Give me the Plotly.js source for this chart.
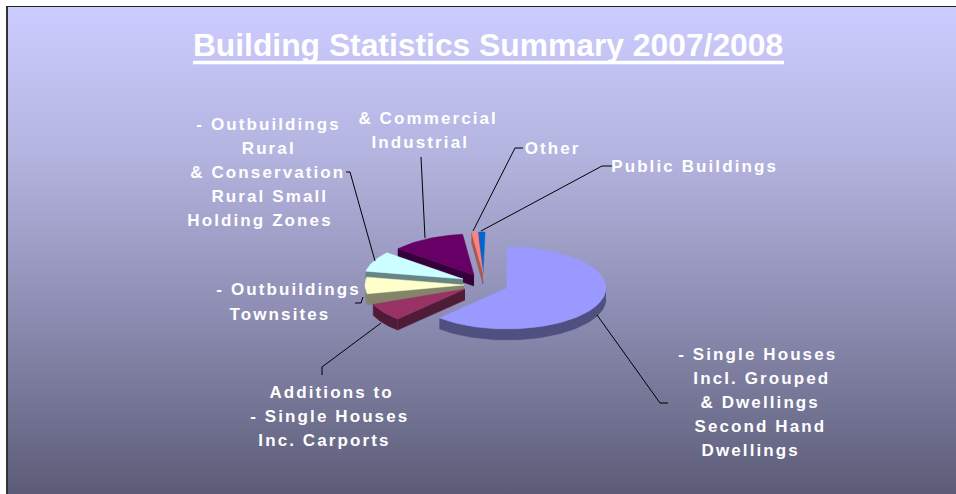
<!DOCTYPE html>
<html>
<head>
<meta charset="utf-8">
<script src="https://cdn.plot.ly/plotly-3.0.1.min.js"></script>
<style>
html,body{margin:0;padding:0;background:#fff;width:956px;height:494px;overflow:hidden}
#bg{position:absolute;left:6px;top:6px;width:950px;height:488px;box-sizing:border-box;border-left:2px solid #333;border-top:1.5px solid #222;
background:linear-gradient(to bottom,#ccccff 0%,#b4b4e0 30%,#8e8eb4 62%,#5c5c78 100%)}
#chart{position:absolute;left:0;top:0;width:956px;height:494px}
#chart .annotation-text{letter-spacing:2.1px}
</style>
</head>
<body>
<div id="bg"></div>
<div id="chart"></div>
<script>
// Data: categories and their share of the pie (percent)
const categories = ["Single Houses","Additions","Outbuildings Townsites","Outbuildings Rural","Commercial Industrial","Other","Public Buildings"];
const shares = [61.9, 7.0, 6.5, 8.0, 12.1, 1.0, 1.0];

// Drawing style
const topColors  = ["#9999ff","#993366","#ffffcc","#ccffff","#660066","#ff8080","#0066cc"];
const wallColors = ["#4f4f80","#4f1c38","#84846a","#688484","#36003a","#a35a50","#003a78"];
const apexX = [507,465,464,463,474,483,483];
const apexY = [288,289,285,279,275,273,273];
const gapBefore = [0,0,9.6,0,0,0,0.6];   // perspective offset of the 3-D original, degrees
const RX = 99, RY = 41, DEPTH = 11;

// Text labels, one entry per line
const labelText = ["- Outbuildings","Rural","& Conservation","Rural Small","Holding Zones",
  "& Commercial","Industrial","Other","Public Buildings","- Outbuildings","Townsites",
  "Additions to","- Single Houses","Inc. Carports","- Single Houses","Incl. Grouped","& Dwellings","Second Hand","Dwellings"];
const labelX = [268,268,268,270,260,428,420,553,694,288,280,331,330,324,758,762,760,760,750];
const labelY = [124,148,172,196,220,118,142,148,166,289,314,392,416,440,354,378,402,426,450];

// Leader lines
const leaders = [
  "M523,148L515,148L473,231","M612,166L602,166L481,231","M421,157L425,238",
  "M346,172L350,172L375,261","M355,303L361,303L363,297","M322,375L322,367L381,323","M597,315L660,403L668,403"];

function pt(cx,cy,a,dz){const r=a*Math.PI/180;return [cx+RX*Math.sin(r),cy-RY*Math.cos(r)+(dz||0)];}
function poly(points,color){
  return {type:"scatter",mode:"lines",x:points.map(p=>p[0]),y:points.map(p=>p[1]),
    fill:"toself",fillcolor:color,line:{width:0.5,color:color},hoverinfo:"skip",showlegend:false};
}
function range(a,b){const o=[];for(let t=a;t<b;t+=2)o.push(t);o.push(b);return o;}

let cum=0;
const slices=categories.map((c,i)=>{
  cum+=gapBefore[i];
  const s=cum, e=cum+shares[i]*3.6; cum=e;
  return {i,s,e};
});
const order=[6,5,4,3,2,1,0];
const traces=[];
order.forEach(k=>{
  const {i,s,e}=slices[k], cx=apexX[i], cy=apexY[i];
  // rim wall: the visible front part of the rim
  const a=Math.max(s,90), b=Math.min(e,270);
  if(a<b){
    const arc=range(a,b);
    traces.push(poly(arc.map(t=>pt(cx,cy,t,0)).concat(arc.slice().reverse().map(t=>pt(cx,cy,t,DEPTH))),wallColors[i]));
  }
  // radial wall on the leading edge
  if(s>=180){
    const p=pt(cx,cy,s,0),q=pt(cx,cy,s,DEPTH);
    traces.push(poly([[cx,cy],p,q,[cx,cy+DEPTH]],wallColors[i]));
  }
  // top face
  const top=[[cx,cy]].concat(range(s,e).map(t=>pt(cx,cy,t,0)));
  top.push([cx,cy]);
  traces.push(poly(top,topColors[i]));
});

const layout={
  width:956,height:494,margin:{l:0,r:0,t:0,b:0},
  paper_bgcolor:"rgba(0,0,0,0)",plot_bgcolor:"rgba(0,0,0,0)",showlegend:false,
  xaxis:{range:[0,956],visible:false,fixedrange:true},
  yaxis:{range:[494,0],visible:false,fixedrange:true},
  title:{text:"<b>Building Statistics Summary 2007/2008</b>",x:0.5105,xref:"paper",xanchor:"center",
    y:0.91,yref:"paper",yanchor:"middle",
    font:{family:"Liberation Sans, Arial, sans-serif",size:31.8,color:"#fff"}},
  shapes:[{type:"line",xref:"x",yref:"y",x0:193,x1:784,y0:62.5,y1:62.5,line:{color:"#fff",width:3.5}}]
    .concat(leaders.map(p=>({type:"path",xref:"x",yref:"y",path:p,line:{color:"#000",width:1},layer:"above"}))),
  annotations:labelText.map((t,i)=>({text:"<b>"+t+"</b>",x:labelX[i],y:labelY[i],xref:"x",yref:"y",
    showarrow:false,xanchor:"center",yanchor:"middle",
    font:{family:"Liberation Sans, Arial, sans-serif",size:17,color:"#fff"}}))
};
Plotly.newPlot("chart",traces,layout,{displayModeBar:false,staticPlot:true});
</script>
</body>
</html>
